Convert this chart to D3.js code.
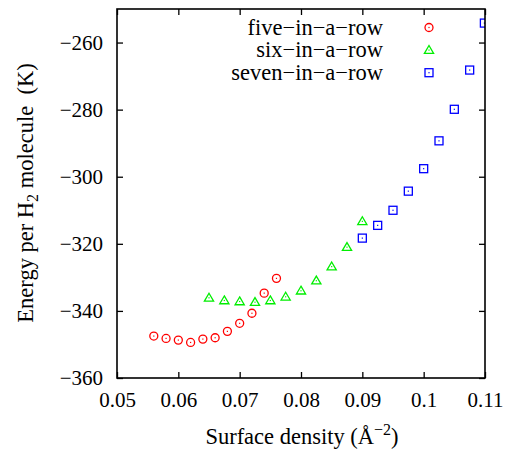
<!DOCTYPE html>
<html><head><meta charset="utf-8">
<script src="https://cdn.jsdelivr.net/npm/d3@7"></script>
<style>body{margin:0;background:#fff}svg{display:block}text{font-family:"Liberation Serif","DejaVu Serif",serif;fill:#000}</style>
</head><body><svg id="c" width="508" height="451"></svg>
<script>
const seriesNames = ["five\u2212in\u2212a\u2212row", "six\u2212in\u2212a\u2212row", "seven\u2212in\u2212a\u2212row"];
const fiveX = [0.056, 0.058, 0.060, 0.062, 0.064, 0.066, 0.068, 0.070, 0.072, 0.074, 0.076];
const fiveY = [-347.5, -348.2, -348.7, -349.4, -348.4, -348.0, -346.1, -343.7, -340.7, -334.7, -330.3];
const sixX = [0.0650, 0.0675, 0.0700, 0.0725, 0.0750, 0.0775, 0.0800, 0.0825, 0.0850, 0.0875, 0.0900];
const sixY = [-336.1, -336.9, -337.2, -337.4, -336.9, -335.8, -334.0, -331.0, -326.8, -321.0, -313.3];
const sevenX = [0.0900, 0.0925, 0.0950, 0.0975, 0.1000, 0.1025, 0.1050, 0.1075, 0.1099];
const sevenY = [-318.3, -314.5, -310.0, -304.3, -297.6, -289.3, -279.9, -268.2, -254.2];
const xTicks = [0.05, 0.06, 0.07, 0.08, 0.09, 0.10, 0.11];
const xTickLabels = ["0.05", "0.06", "0.07", "0.08", "0.09", "0.1", "0.11"];
const yTicks = [-360, -340, -320, -300, -280, -260];
const yTickLabels = ["\u2212360", "\u2212340", "\u2212320", "\u2212300", "\u2212280", "\u2212260"];

const L = 117, R = 485, T = 9, B = 378;
const FONT = '"Liberation Serif","DejaVu Serif",serif';
const x = d3.scaleLinear().domain([0.05, 0.11]).range([L, R]);
const y = d3.scaleLinear().domain([-360, -250]).range([B, T]);
const svg = d3.select("#c");

const tickLen = 6;
const axB = d3.axisBottom(x).tickValues(xTicks).tickSize(-tickLen).tickFormat((d,i)=>xTickLabels[i]).tickPadding(14);
const axT = d3.axisTop(x).tickValues(xTicks).tickSize(-tickLen).tickFormat("");
const axL = d3.axisLeft(y).tickValues(yTicks).tickSize(-tickLen).tickFormat((d,i)=>yTickLabels[i]).tickPadding(14);
const axR = d3.axisRight(y).tickValues(yTicks).tickSize(-tickLen).tickFormat("");
function style(g){
  g.attr("font-family", FONT).attr("font-size", 21);
  g.select(".domain").remove();
  g.selectAll("line").attr("stroke","#000").attr("stroke-width",1.3);
  g.selectAll("text").style("font-family", FONT).style("font-size","21px").attr("fill","#000");
}
svg.append("g").attr("transform",`translate(0,${B})`).call(axB).call(style);
svg.append("g").attr("transform",`translate(0,${T})`).call(axT).call(style);
svg.append("g").attr("transform",`translate(${L},0)`).call(axL).call(style);
svg.append("g").attr("transform",`translate(${R},0)`).call(axR).call(style);

svg.append("clipPath").attr("id","clip").append("rect").attr("x",L).attr("y",T).attr("width",R-L).attr("height",B-T);
const plot = svg.append("g").attr("clip-path","url(#clip)");

const colors = ["#ff0000", "#00ee00", "#0000ff"];
function marker(g, type, cx, cy, col){
  if(type===0){
    g.append("circle").attr("cx",cx).attr("cy",cy).attr("r",4).attr("fill","none").attr("stroke",col).attr("stroke-width",1.3);
  } else if(type===1){
    const s=4.6;
    g.append("path").attr("d",`M${cx},${cy-s}L${cx+s},${cy+s*0.7}L${cx-s},${cy+s*0.7}Z`).attr("fill","none").attr("stroke",col).attr("stroke-width",1.3);
  } else {
    g.append("rect").attr("x",cx-4).attr("y",cy-4).attr("width",8).attr("height",8).attr("fill","none").attr("stroke",col).attr("stroke-width",1.3);
  }
  g.append("rect").attr("x",cx-0.6).attr("y",cy-0.6).attr("width",1.2).attr("height",1.2).attr("fill",col);
}
const sets = [[fiveX,fiveY],[sixX,sixY],[sevenX,sevenY]];
sets.forEach(([xs,ys],k)=>{ xs.forEach((v,i)=>marker(plot,k,x(v),y(ys[i]),colors[k])); });

svg.append("rect").attr("x",L).attr("y",T).attr("width",R-L).attr("height",B-T).attr("fill","none").attr("stroke","#000").attr("stroke-width",1.6);

seriesNames.forEach((n,k)=>{
  const ly = 27.5 + k*22.6;
  svg.append("text").attr("x",383).attr("y",ly+7).attr("text-anchor","end").style("font-size","22.5px").text(n);
  marker(svg,k,429,ly,colors[k]);
});

const xl = svg.append("text").attr("x",302).attr("y",444).attr("text-anchor","middle").style("font-size","22.5px");
xl.append("tspan").text("Surface density (\u00C5");
xl.append("tspan").attr("dy",-9).style("font-size","16px").text("\u22122");
xl.append("tspan").attr("dy",9).text(")");

const yl = svg.append("text").attr("transform",`translate(33,193) rotate(-90)`).attr("text-anchor","middle").style("font-size","22.5px");
yl.append("tspan").text("Energy per H");
yl.append("tspan").attr("dy",5).style("font-size","16px").text("2");
yl.append("tspan").attr("dy",-5).text(" molecule\u00A0 (K)");
</script></body></html>
